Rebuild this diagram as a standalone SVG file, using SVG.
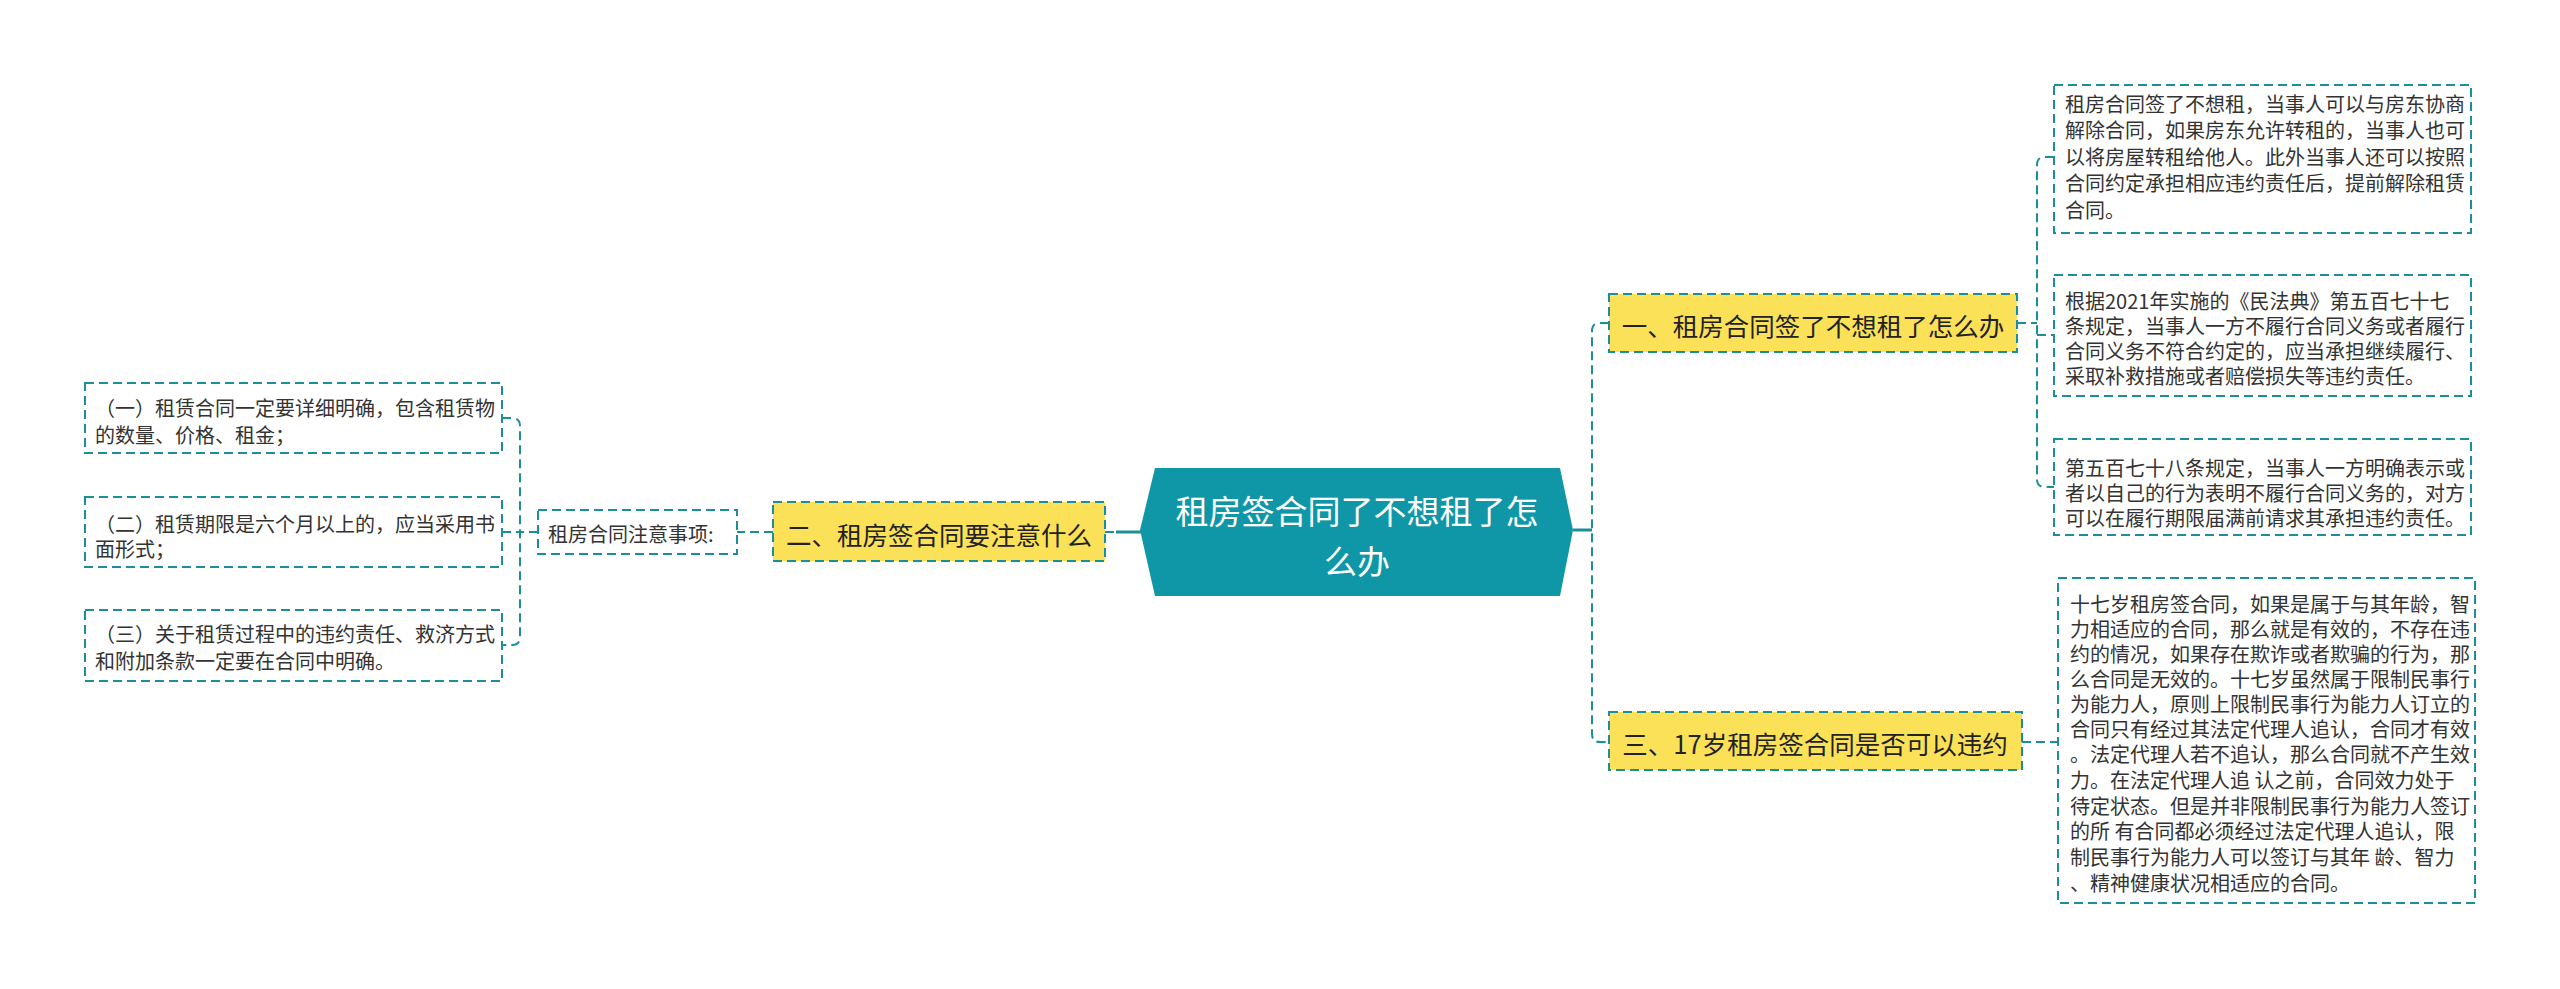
<svg xmlns="http://www.w3.org/2000/svg" width="2560" height="989" viewBox="0 0 2560 989">
<style>
.bg{fill:#ffffff}
.box{fill:#ffffff;stroke:#1b8e9b;stroke-width:2;stroke-dasharray:9 5}
.ybox{fill:#fbe158;stroke:#1b8e9b;stroke-width:2;stroke-dasharray:9 5}
.con{fill:none;stroke:#1b8e9b;stroke-width:2;stroke-dasharray:9 5}
.solid{fill:none;stroke:#1b8e9b;stroke-width:3}
.t{font-family:"Noto Sans CJK SC","Noto Sans",sans-serif;fill:#333333;dominant-baseline:central}
.s{font-size:20px}
.m{font-size:25.5px;text-anchor:middle;fill:#222222}
.c{font-size:33px;text-anchor:middle;fill:#ffffff}
</style>
<rect class="bg" x="0" y="0" width="2560" height="989"/>
<g id="connectors">
<path class="solid" d="M1573 530 H1592"/>
<path class="con" d="M1609 323 H1600 Q1592 323 1592 331 V734 Q1592 742 1600 742 H1609"/>
<path class="con" d="M2017 323 H2037"/>
<path class="con" d="M2054 157 H2045 Q2037 157 2037 165 V479 Q2037 487 2045 487 H2054"/>
<path class="con" d="M2037 335 H2054"/>
<path class="con" d="M2022 742 H2058"/>
<path class="solid" d="M1116 532 H1141"/>
<path class="con" d="M1105 532 H1114"/>
<path class="con" d="M773 532 H737"/>
<path class="con" d="M538 532 H520"/>
<path class="con" d="M502 418 H512 Q520 418 520 426 V637 Q520 645 512 645 H502"/>
<path class="con" d="M502 532 H520"/>
</g>
<g id="center">
<polygon points="1155,468 1560,468 1573,530 1560,596 1155,596 1140,530" fill="#0f97a8"/>
<text class="t c" x="1357" y="510">租房签合同了不想租了怎</text>
<text class="t c" x="1357" y="560">么办</text>
</g>
<g id="n1">
<rect class="ybox" x="1609" y="294" width="408" height="58"/>
<text class="t m" x="1813" y="324">一、租房合同签了不想租了怎么办</text>
</g>
<g id="n1a">
<rect class="box" x="2054" y="85" width="417" height="148"/>
<text class="t s" x="2065" y="103">租房合同签了不想租，当事人可以与房东协商</text>
<text class="t s" x="2065" y="129">解除合同，如果房东允许转租的，当事人也可</text>
<text class="t s" x="2065" y="156">以将房屋转租给他人。此外当事人还可以按照</text>
<text class="t s" x="2065" y="182">合同约定承担相应违约责任后，提前解除租赁</text>
<text class="t s" x="2065" y="209">合同。</text>
</g>
<g id="n1b">
<rect class="box" x="2054" y="275" width="417" height="121"/>
<text class="t s" x="2065" y="300">根据2021年实施的《民法典》第五百七十七</text>
<text class="t s" x="2065" y="325">条规定，当事人一方不履行合同义务或者履行</text>
<text class="t s" x="2065" y="350">合同义务不符合约定的，应当承担继续履行、</text>
<text class="t s" x="2065" y="375">采取补救措施或者赔偿损失等违约责任。</text>
</g>
<g id="n1c">
<rect class="box" x="2054" y="439" width="417" height="96"/>
<text class="t s" x="2065" y="467">第五百七十八条规定，当事人一方明确表示或</text>
<text class="t s" x="2065" y="492">者以自己的行为表明不履行合同义务的，对方</text>
<text class="t s" x="2065" y="517">可以在履行期限届满前请求其承担违约责任。</text>
</g>
<g id="n3">
<rect class="ybox" x="1609" y="712" width="413" height="58"/>
<text class="t m" x="1815" y="742">三、17岁租房签合同是否可以违约</text>
</g>
<g id="n3a">
<rect class="box" x="2058" y="578" width="417" height="325"/>
<text class="t s" x="2070" y="603">十七岁租房签合同，如果是属于与其年龄，智</text>
<text class="t s" x="2070" y="628">力相适应的合同，那么就是有效的，不存在违</text>
<text class="t s" x="2070" y="653">约的情况，如果存在欺诈或者欺骗的行为，那</text>
<text class="t s" x="2070" y="678">么合同是无效的。十七岁虽然属于限制民事行</text>
<text class="t s" x="2070" y="703">为能力人，原则上限制民事行为能力人订立的</text>
<text class="t s" x="2070" y="728">合同只有经过其法定代理人追认，合同才有效</text>
<text class="t s" x="2070" y="753">。法定代理人若不追认，那么合同就不产生效</text>
<text class="t s" x="2070" y="779">力。在法定代理人追 认之前，合同效力处于</text>
<text class="t s" x="2070" y="805">待定状态。但是并非限制民事行为能力人签订</text>
<text class="t s" x="2070" y="830">的所 有合同都必须经过法定代理人追认，限</text>
<text class="t s" x="2070" y="856">制民事行为能力人可以签订与其年 龄、智力</text>
<text class="t s" x="2070" y="882">、精神健康状况相适应的合同。</text>
</g>
<g id="n2">
<rect class="ybox" x="773" y="502" width="332" height="59"/>
<text class="t m" x="939" y="533">二、租房签合同要注意什么</text>
</g>
<g id="n2a">
<rect class="box" x="538" y="510" width="199" height="44"/>
<text class="t s" x="548" y="533">租房合同注意事项:</text>
</g>
<g id="n2a1">
<rect class="box" x="85" y="383" width="417" height="70"/>
<text class="t s" x="95" y="407">（一）租赁合同一定要详细明确，包含租赁物</text>
<text class="t s" x="95" y="434">的数量、价格、租金；</text>
</g>
<g id="n2a2">
<rect class="box" x="85" y="497" width="417" height="70"/>
<text class="t s" x="95" y="523">（二）租赁期限是六个月以上的，应当采用书</text>
<text class="t s" x="95" y="548">面形式；</text>
</g>
<g id="n2a3">
<rect class="box" x="85" y="610" width="417" height="71"/>
<text class="t s" x="95" y="633">（三）关于租赁过程中的违约责任、救济方式</text>
<text class="t s" x="95" y="660">和附加条款一定要在合同中明确。</text>
</g>
</svg>
